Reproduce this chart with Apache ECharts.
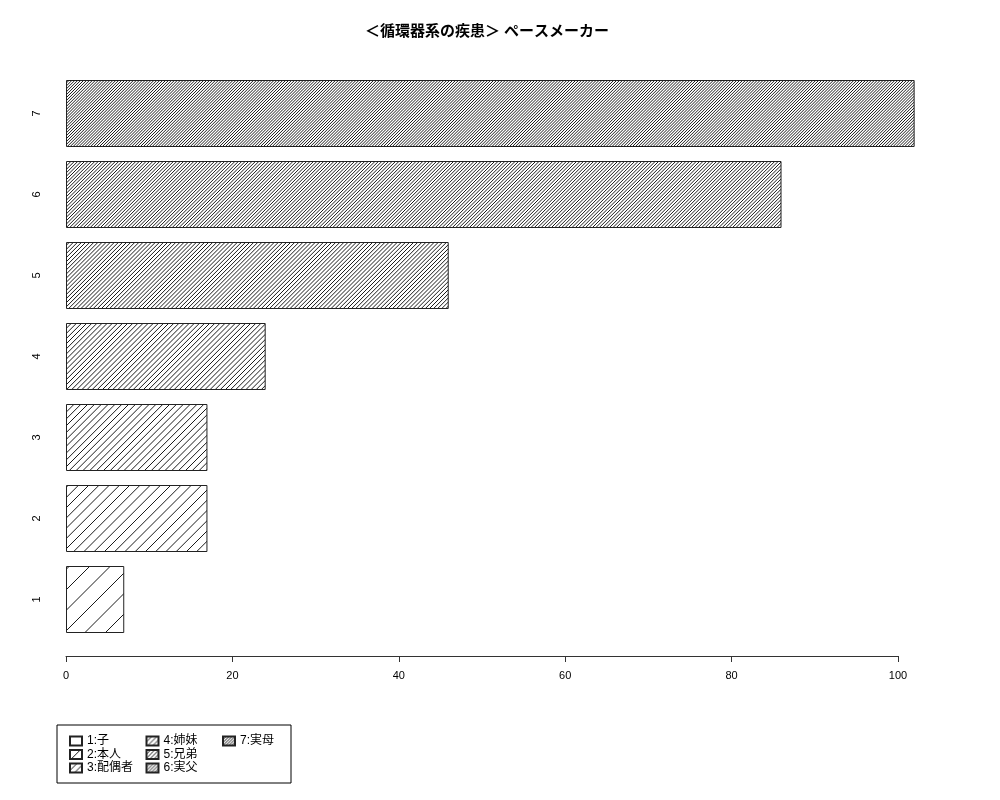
<!DOCTYPE html>
<html>
<head>
<meta charset="utf-8">
<script src="https://cdn.jsdelivr.net/npm/echarts@6/dist/echarts.min.js"></script>
<style>html,body{margin:0;padding:0;background:#fff}#c{width:1000px;height:800px}</style>
</head>
<body>
<div id="c"></div>
<script>
const titleText = '＜循環器系の疾患＞ ペースメーカー';
const categories = ['1', '2', '3', '4', '5', '6', '7'];
const values = [7, 17, 17, 24, 46, 86, 102];
const seriesNames = ['1:子', '2:本人', '3:配偶者', '4:姉妹', '5:兄弟', '6:実父', '7:実母'];
const xTicks = [0, 20, 40, 60, 80, 100];

const FONT = "'Liberation Sans', 'Noto Sans CJK JP', sans-serif";

function hatch(n) {
  const T = 41;
  const c = document.createElement('canvas');
  c.width = T; c.height = T;
  const g = c.getContext('2d');
  g.fillStyle = '#fff';
  g.fillRect(0, 0, T, T);
  g.strokeStyle = '#000';
  g.lineWidth = 0.9;
  g.beginPath();
  for (let j = -n; j <= 2 * n; j++) {
    const cc = j * T / n;
    g.moveTo(cc + 2, -2);
    g.lineTo(cc - T - 2, T + 2);
  }
  g.stroke();
  return c;
}

const chart = echarts.init(document.getElementById('c'), null, {renderer: 'canvas'});
const series = seriesNames.map((name, i) => ({
  name: name,
  type: 'bar',
  stack: 'all',
  barWidth: 67,
  clip: false,
  data: categories.map((c, j) => (j === i ? values[i] : '-')),
  itemStyle: {
    color: {image: hatch(2 * (i + 1)), repeat: 'repeat'},
    borderColor: '#222',
    borderWidth: 1
  },
  emphasis: {disabled: true}
}));

chart.setOption({
  animation: false,
  backgroundColor: '#fff',
  title: {
    text: titleText,
    left: 482,
    textAlign: 'center',
    top: 19,
    textStyle: {fontFamily: FONT, fontSize: 15, fontWeight: 'bold', color: '#000'}
  },
  grid: {left: 66, right: 102, top: 73, bottom: 160, containLabel: false},
  xAxis: {
    type: 'value',
    min: xTicks[0],
    max: xTicks[xTicks.length - 1],
    interval: xTicks[1] - xTicks[0],
    offset: 16,
    axisLine: {show: true, lineStyle: {color: '#333', width: 1}},
    axisTick: {show: true, length: 6, lineStyle: {color: '#333'}},
    axisLabel: {color: '#000', fontSize: 11, fontFamily: FONT, margin: 14},
    splitLine: {show: false}
  },
  yAxis: {
    type: 'category',
    data: categories,
    axisLine: {show: false},
    axisTick: {show: false},
    axisLabel: {rotate: 90, color: '#000', fontSize: 11, fontFamily: FONT, margin: 24},
    splitLine: {show: false}
  },
  legend: {
    orient: 'vertical',
    left: 57,
    top: 725,
    height: 48,
    padding: [10, 11, 9, 12],
    itemGap: 1.5,
    itemWidth: 12,
    itemHeight: 9,
    icon: 'rect',
    borderColor: '#000',
    borderWidth: 1,
    selectedMode: false,
    formatter: function (name) {
      return (name === seriesNames[6] ? '{b|' : '{a|') + name + '}';
    },
    textStyle: {
      fontFamily: FONT, fontSize: 12, color: '#000',
      rich: {
        a: {width: 57, height: 12, lineHeight: 12, fontFamily: FONT, fontSize: 12, color: '#000'},
        b: {width: 40, height: 12, lineHeight: 12, fontFamily: FONT, fontSize: 12, color: '#000'}
      }
    },
    data: seriesNames
  },
  series: series
});
</script>
</body>
</html>
